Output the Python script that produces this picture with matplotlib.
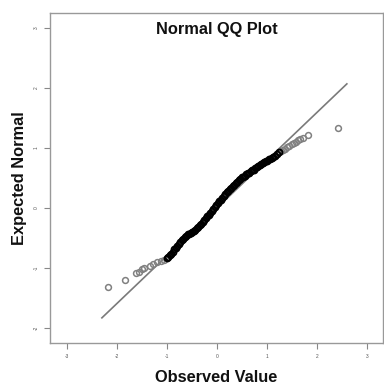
import matplotlib.pyplot as plt

plt.rcParams['font.family'] = ['Liberation Sans', 'DejaVu Sans']

# observed values (x) and expected normal scores (y), read off the picture
# sparse lower tail
low_obs = [-2.18, -1.84, -1.62, -1.56, -1.50, -1.46, -1.34, -1.28, -1.20, -1.12, -1.06]
low_exp = [-1.32, -1.20, -1.09, -1.06, -1.02, -1.00, -0.97, -0.94, -0.90, -0.88, -0.86]

# dense body of the sample
body_obs = [-1.00, -0.97, -0.94, -0.91, -0.88, -0.85, -0.82, -0.79, -0.76, -0.73,
            -0.70, -0.67, -0.64, -0.61, -0.58, -0.55, -0.52, -0.49, -0.46, -0.43,
            -0.40, -0.37, -0.34, -0.31, -0.28, -0.25, -0.22, -0.19, -0.16, -0.13,
            -0.10, -0.07, -0.04, -0.01, 0.02, 0.05, 0.08, 0.11, 0.14, 0.17,
            0.20, 0.23, 0.26, 0.29, 0.32, 0.35, 0.38, 0.41, 0.44, 0.47,
            0.50, 0.53, 0.56, 0.59, 0.62, 0.65, 0.68, 0.71, 0.74, 0.77,
            0.80, 0.83, 0.86, 0.89, 0.92, 0.95, 0.98, 1.01, 1.04, 1.07,
            1.10, 1.13, 1.17, 1.21, 1.25]
body_exp = [-0.84, -0.82, -0.79, -0.76, -0.73, -0.69, -0.66, -0.63, -0.60, -0.57,
            -0.54, -0.51, -0.48, -0.46, -0.44, -0.43, -0.42, -0.40, -0.38, -0.36,
            -0.33, -0.31, -0.28, -0.26, -0.23, -0.20, -0.17, -0.14, -0.11, -0.08,
            -0.05, -0.02, 0.02, 0.05, 0.08, 0.11, 0.14, 0.17, 0.20, 0.23,
            0.26, 0.29, 0.32, 0.34, 0.37, 0.39, 0.41, 0.44, 0.46, 0.49,
            0.51, 0.52, 0.54, 0.56, 0.58, 0.59, 0.61, 0.63, 0.64, 0.66,
            0.68, 0.70, 0.71, 0.73, 0.75, 0.76, 0.78, 0.79, 0.81, 0.82,
            0.84, 0.85, 0.87, 0.90, 0.93]

# sparse upper tail
up_obs = [1.29, 1.33, 1.37, 1.41, 1.45, 1.50, 1.55, 1.58, 1.62, 1.66, 1.72, 1.82, 2.42]
up_exp = [0.95, 0.97, 0.99, 1.01, 1.03, 1.06, 1.09, 1.10, 1.13, 1.15, 1.17, 1.22, 1.33]

# reference line end points
line_x = [-2.3, 2.6]
line_y = [-1.83, 2.07]

x_ticks = [-3, -2, -1, 0, 1, 2, 3]
y_ticks = [-2, -1, 0, 1, 2, 3]

fig = plt.figure(figsize=(3.84, 3.85), dpi=100)
ax = fig.add_axes([0.130, 0.109, 0.867, 0.857])

ax.plot(line_x, line_y, color='#7a7a7a', lw=1.2, zorder=1)
ax.plot(low_obs, low_exp, 'o', ms=4.2, mfc='none', mec='#808080', mew=1.1, zorder=2)
ax.plot(up_obs, up_exp, 'o', ms=4.2, mfc='none', mec='#808080', mew=1.1, zorder=2)
ax.plot(body_obs, body_exp, 'o', ms=4.2, mfc='none', mec='black', mew=1.4, zorder=3)

ax.set_xlim(-3.34, 3.32)
ax.set_ylim(-2.25, 3.25)
ax.set_xticks(x_ticks)
ax.set_yticks(y_ticks)
ax.set_xticklabels([str(v) for v in x_ticks], fontsize=3.5, color='#555555')
ax.set_yticklabels([str(v) for v in y_ticks], fontsize=3.5, color='#555555',
                   rotation=90, va='center')
ax.tick_params(direction='out', length=4, width=0.8, color='#888888', pad=4)

for s in ax.spines.values():
    s.set_color('#999999')
    s.set_linewidth(1.0)

ax.text(0.5, 0.972, 'Normal QQ Plot', transform=ax.transAxes, ha='center', va='top',
        fontsize=11.8, fontweight='bold', color='#111111')
ax.set_xlabel('Observed Value', fontsize=11.8, fontweight='bold', color='#111111', labelpad=8)
ax.set_ylabel('Expected Normal', fontsize=11.8, fontweight='bold', color='#111111', labelpad=5)

fig.savefig('out.png', dpi=100)
